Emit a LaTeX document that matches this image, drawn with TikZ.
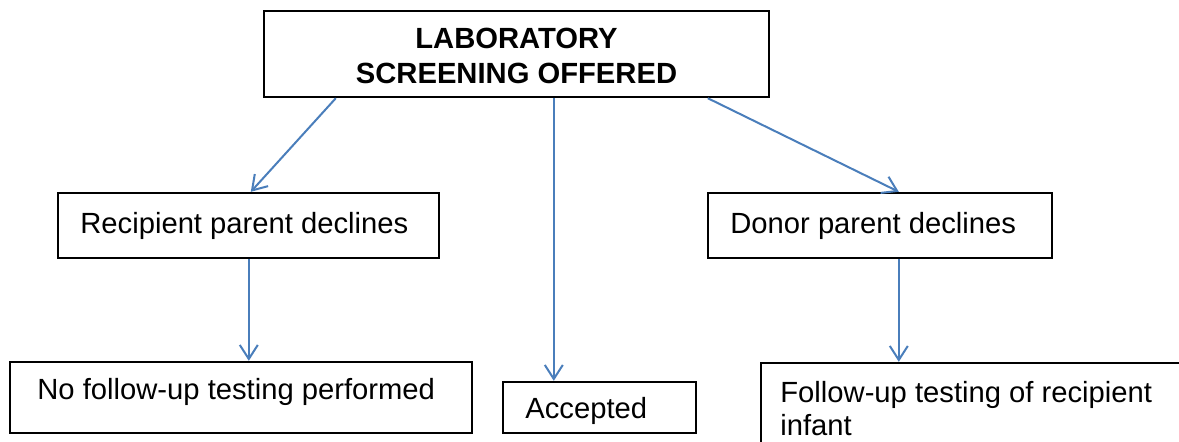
\documentclass[tikz,border=0pt]{standalone}
\usepackage{fontspec}
\setmainfont{Liberation Sans}
\usetikzlibrary{arrows.meta,fit,calc}
\definecolor{arrblue}{HTML}{4A7EBB}
\begin{document}
\begin{tikzpicture}[x=0.5pt,y=-0.5pt,
  box/.style={draw=black,line width=1.2pt,inner sep=0pt,rectangle},
  txt/.style={inner sep=0pt,anchor=base west,font=\fontsize{14.6pt}{17.5pt}\selectfont},
  ttl/.style={inner sep=0pt,anchor=base,font=\fontsize{14.6pt}{17.5pt}\selectfont\bfseries},
  arr/.style={draw=arrblue,line width=1pt,-{Straight Barb[length=7pt,width=9pt,line width=1pt]}}]
\useasboundingbox (0,0) rectangle (1179,441);
\clip (0,0) rectangle (1179,441);
% boxes
\node[box,fit={(264,11) (769,97)}] (top) {};
\node[box,fit={(58,193) (439,258)}] (rec) {};
\node[box,fit={(708,193) (1052,258)}] (don) {};
\node[box,fit={(10,362) (472,433)}] (nof) {};
\node[box,fit={(503,382) (696,433)}] (acc) {};
\node[box,fit={(761,363) (1210,480)}] (fol) {};
% texts
\node[ttl] (t1) at (516.5,48) {LABORATORY};
\node[ttl] (t2) at (516.5,83) {SCREENING OFFERED};
\node[txt] (trec) at (80,233) {Recipient parent declines};
\node[txt] (tdon) at (730,233) {Donor parent declines};
\node[txt] (tnof) at (37,399) {No follow-up testing performed};
\node[txt] (tacc) at (525,418) {Accepted};
\node[txt] (tfol1) at (780,402) {Follow-up testing of recipient};
\node[txt] (tfol2) at (780,435) {infant};
% connectors
\coordinate (s1) at ($(top.south west)+(73,0)$);
\coordinate (e1) at ($(rec.north west)+(194,0)$);
\draw[arr] (s1) -- (e1);
\coordinate (s2) at ($(top.south west)+(291,0)$);
\draw[arr] (s2) -- (s2 |- acc.north);
\coordinate (s3) at ($(top.south west)+(445,0)$);
\coordinate (e3) at ($(don.north west)+(192,0)$);
\draw[arr] (s3) -- (e3);
\coordinate (s4) at ($(rec.south west)+(192,0)$);
\draw[arr] (s4) -- (s4 |- nof.north);
\coordinate (s5) at ($(don.south west)+(192,0)$);
\draw[arr] (s5) -- (s5 |- fol.north);
\end{tikzpicture}
\end{document}
